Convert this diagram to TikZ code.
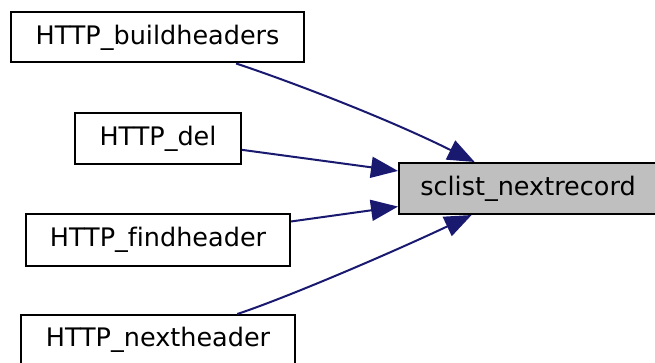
\documentclass[tikz,border=0pt]{standalone}
\usepackage{fontspec}
\setmainfont[Ligatures=NoCommon]{DejaVu Sans}
\usetikzlibrary{arrows.meta}
\definecolor{edgeblue}{HTML}{191970}
\definecolor{hlgray}{HTML}{BFBFBF}
\begin{document}
\begin{tikzpicture}[x=1pt,y=-1pt,
  box/.style={draw=black,line width=2pt,fill=white,inner sep=0pt,
    font=\fontsize{25.5}{30}\selectfont,text=black},
  hl/.style={box,fill=hlgray},
  call/.style={draw=edgeblue,line width=2pt,
    -{Triangle[length=27pt,width=21pt,fill=edgeblue]}}]
\useasboundingbox (0,0) rectangle (655,363);
\node[box,minimum width=293pt,minimum height=50pt] (bh) at (157.5,37.5) {HTTP\_buildheaders};
\node[box,minimum width=166pt,minimum height=51pt] (del) at (158,138.5) {HTTP\_del};
\node[box,minimum width=264pt,minimum height=51pt] (fh) at (158,240) {HTTP\_findheader};
\node[box,minimum width=274pt,minimum height=50pt] (nh) at (158,340) {HTTP\_nextheader};
\node[hl,minimum width=258pt,minimum height=51pt] (sc) at (528,188.5) {sclist\_nextrecord};
\draw[call] (bh) .. controls (280,78) and (380,115) .. (sc);
\draw[call] (del) -- (sc);
\draw[call] (fh) -- (sc);
\draw[call] (nh) .. controls (280,300) and (380,258) .. (sc);
\end{tikzpicture}
\end{document}
